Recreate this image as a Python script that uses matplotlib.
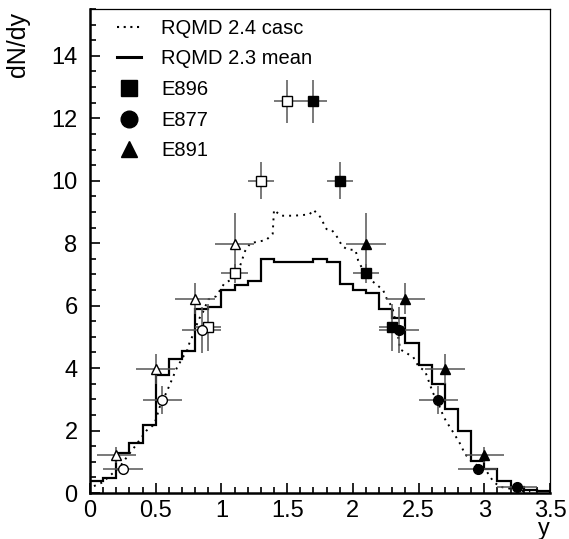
import matplotlib
matplotlib.use("Agg")
import matplotlib.pyplot as plt
import numpy as np
from matplotlib.lines import Line2D
from matplotlib.ticker import MultipleLocator

plt.rcParams["font.family"] = ["Liberation Sans", "DejaVu Sans"]

# RQMD 2.3 mean: histogram, 0.1 wide bins from 0 to 3.5
bin_edges = [0.0, 0.1, 0.2, 0.3, 0.4, 0.5, 0.6, 0.7, 0.8, 0.9, 1.0, 1.1,
             1.2, 1.3, 1.4, 1.5, 1.6, 1.7, 1.8, 1.9, 2.0, 2.1, 2.2, 2.3,
             2.4, 2.5, 2.6, 2.7, 2.8, 2.9, 3.0, 3.1, 3.2, 3.3, 3.4, 3.5]
mean_vals = [0.38, 0.49, 1.27, 1.59, 2.19, 3.78, 4.28, 4.56, 5.89, 5.97,
             6.51, 6.67, 6.79, 7.49, 7.39, 7.39, 7.39, 7.49, 7.39, 6.69,
             6.51, 6.40, 5.89, 5.60, 4.80, 4.10, 3.48, 2.69, 1.99, 1.04,
             0.78, 0.38, 0.18, 0.10, 0.05]

# RQMD 2.4 casc: dotted curve
casc_y_pos = [0.03, 0.10, 0.15, 0.22, 0.28, 0.34, 0.43, 0.49, 0.53, 0.59,
              0.63, 0.66, 0.70, 0.74, 0.76, 0.80, 0.82, 0.86, 0.90, 0.96,
              1.02, 1.08, 1.14, 1.18, 1.22, 1.34, 1.39, 1.40, 1.45, 1.55,
              1.67, 1.70, 1.75, 1.80, 1.84, 1.88, 1.92, 1.96, 2.02, 2.04,
              2.10, 2.23, 2.26, 2.30, 2.33, 2.36, 2.46, 2.50, 2.55, 2.61,
              2.64, 2.69, 2.71, 2.77, 2.82, 2.85, 2.89, 2.94, 3.02, 3.07,
              3.12, 3.22, 3.27, 3.35]
casc_dndy = [0.22, 0.35, 0.55, 0.80, 1.15, 1.48, 2.00, 2.20, 2.75, 3.30,
             3.70, 4.00, 4.30, 4.58, 4.85, 5.20, 5.50, 5.80, 6.20, 6.30,
             6.70, 6.85, 7.25, 7.75, 8.00, 8.10, 8.30, 9.07, 8.88, 8.88,
             8.92, 9.07, 8.85, 8.45, 8.42, 8.20, 7.90, 7.80, 7.78, 7.45,
             6.95, 6.50, 6.20, 5.95, 5.40, 4.60, 4.35, 4.05, 3.90, 3.20,
             2.98, 2.45, 2.30, 1.90, 1.55, 1.27, 1.06, 0.90, 0.68, 0.36,
             0.20, 0.12, 0.07, 0.05]

# E896 (squares): measured and reflected
e896_y = [1.7, 1.9, 2.1, 2.3]
e896_dndy = [12.54, 10.0, 7.04, 5.31]
e896_yerr = [0.7, 0.6, 0.3, 0.75]
e896_y_refl = [1.5, 1.3, 1.1, 0.9]
e896_xerr = 0.1

# E877 (circles)
e877_y = [2.35, 2.65, 2.95, 3.25]
e877_dndy = [5.22, 2.98, 0.76, 0.18]
e877_yerr = [0.75, 0.45, 0.15, 0.1]
e877_y_refl = [0.85, 0.55, 0.25]
e877_dndy_refl = [5.22, 2.98, 0.76]
e877_yerr_refl = [0.75, 0.45, 0.15]
e877_xerr = 0.15

# E891 (triangles)
e891_y = [2.1, 2.4, 2.7, 3.0]
e891_dndy = [7.98, 6.22, 3.97, 1.22]
e891_yerr = [1.0, 0.5, 0.48, 0.25]
e891_y_refl = [1.1, 0.8, 0.5, 0.2]
e891_xerr = 0.15

fig = plt.figure(figsize=(5.69, 5.39), dpi=100)
ax = fig.add_axes([90 / 569, 46 / 539, 460 / 569, 484 / 539])

ax.stairs(mean_vals, bin_edges, color="black", linewidth=1.6, zorder=2)
ax.plot(casc_y_pos, casc_dndy, color="black", linewidth=1.4,
        linestyle=(0, (1, 2.6)), zorder=2)

ecol = "#555555"


def points(x, y, xerr, yerr, marker, filled, ms):
    ax.errorbar(x, y, xerr=xerr, yerr=yerr, fmt="none", ecolor=ecol,
                elinewidth=1.1, capsize=0, zorder=3)
    ax.plot(x, y, linestyle="none", marker=marker, markersize=ms,
            markerfacecolor="black" if filled else "white",
            markeredgecolor="black", markeredgewidth=1.0, zorder=4)


points(e896_y, e896_dndy, e896_xerr, e896_yerr, "s", True, 7)
points(e896_y_refl, e896_dndy, e896_xerr, e896_yerr, "s", False, 7)
points(e877_y, e877_dndy, e877_xerr, e877_yerr, "o", True, 7)
points(e877_y_refl, e877_dndy_refl, e877_xerr, e877_yerr_refl, "o", False, 7)
points(e891_y, e891_dndy, e891_xerr, e891_yerr, "^", True, 7.5)
points(e891_y_refl, e891_dndy, e891_xerr, e891_yerr, "^", False, 7.5)

ax.set_xlim(0, 3.5)
ax.set_ylim(0, 15.5)
ax.xaxis.set_major_locator(MultipleLocator(0.5))
ax.xaxis.set_minor_locator(MultipleLocator(0.1))
ax.yaxis.set_major_locator(MultipleLocator(2))
ax.yaxis.set_minor_locator(MultipleLocator(0.5))
ax.xaxis.set_major_formatter(plt.FuncFormatter(lambda v, _p: f"{v:g}"))
ax.tick_params(axis="both", which="both", direction="in", top=False,
               right=False, labelsize=17, width=1.2)
ax.tick_params(axis="both", which="major", length=7)
ax.tick_params(axis="both", which="minor", length=4)
ax.tick_params(axis="x", pad=5)
ax.tick_params(axis="y", pad=9)
for side in ("left", "bottom"):
    ax.spines[side].set_linewidth(1.8)
for side in ("top", "right"):
    ax.spines[side].set_linewidth(0.9)

ax.set_xlabel("y", loc="right", fontsize=17, labelpad=-3)
fig.text(18 / 569, 1 - 12 / 539, "dN/dy", rotation=90, ha="center",
         va="top", fontsize=18)

handles = [
    Line2D([], [], color="black", linewidth=1.5, linestyle=(0, (1, 2.2))),
    Line2D([], [], color="black", linewidth=2.2),
    Line2D([], [], linestyle="none", marker="s", markersize=12, color="black"),
    Line2D([], [], linestyle="none", marker="o", markersize=12, color="black"),
    Line2D([], [], linestyle="none", marker="^", markersize=12, color="black"),
]
labels = ["RQMD 2.4 casc", "RQMD 2.3 mean", "E896", "E877", "E891"]
ax.legend(handles, labels, loc="upper left", bbox_to_anchor=(0.058, 0.98),
          frameon=False, fontsize=14.5, handlelength=1.2, handletextpad=1.0,
          labelspacing=0.58, borderaxespad=0, borderpad=0)

fig.savefig("out.png", dpi=100)
